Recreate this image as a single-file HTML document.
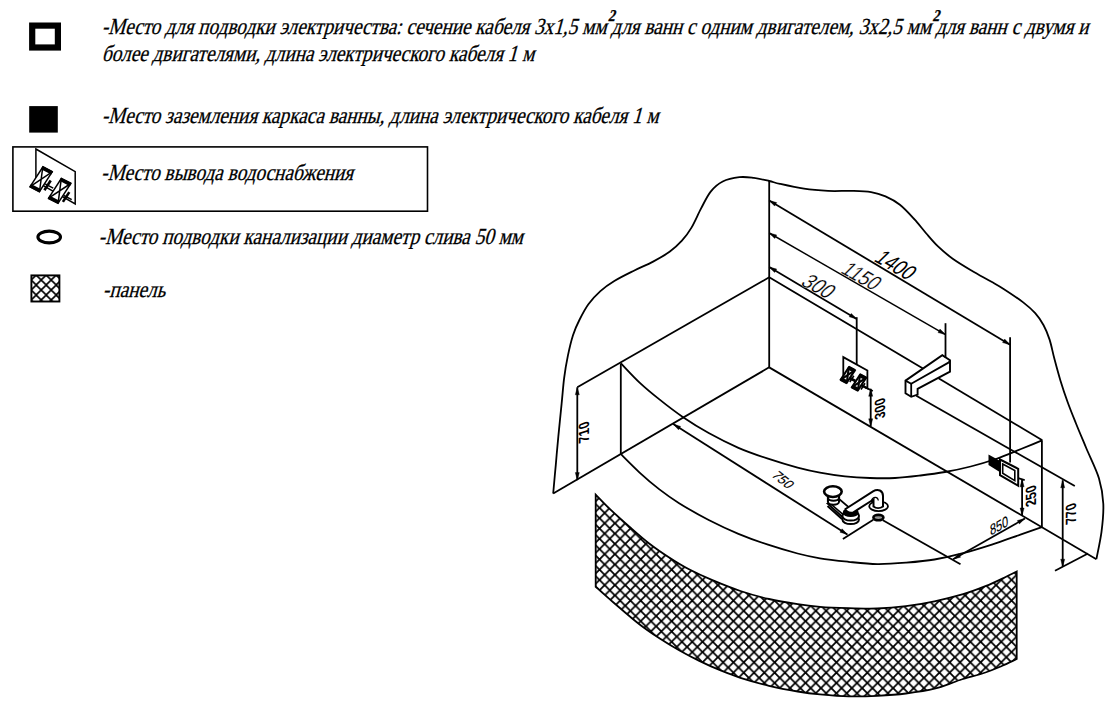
<!DOCTYPE html>
<html lang="ru"><head><meta charset="utf-8"><title>Схема</title>
<style>
html,body{margin:0;padding:0;background:#fff}
body{width:1117px;height:709px;overflow:hidden;position:relative}
svg{position:absolute;left:0;top:0;display:block}
text.l{font-family:"Liberation Serif",serif;font-style:normal;fill:#000;stroke:#000;stroke-width:0.3px}
text.d{font-family:"Liberation Sans",sans-serif;font-style:italic;fill:#000}
text.u{font-family:"Liberation Sans",sans-serif;font-style:normal;fill:#000}
</style></head><body>
<svg width="1117" height="709" viewBox="0 0 1117 709">
<defs>
<pattern id="hatch" patternUnits="userSpaceOnUse" width="10.3" height="10.3" patternTransform="translate(7.25,-2)">
<path d="M-1,-1L11.3,11.3M-1,11.3L11.3,-1" stroke="#000" stroke-width="1.8" fill="none"/>
</pattern>
<pattern id="hatch2" patternUnits="userSpaceOnUse" width="10" height="10" patternTransform="translate(36.2,275)">
<path d="M-1,-1L11,11M-1,11L11,-1" stroke="#000" stroke-width="1.6" fill="none"/>
</pattern>
</defs>
<rect width="1117" height="709" fill="#fff"/>
<g fill="none" stroke="#000" stroke-width="1.8" stroke-linecap="butt" stroke-linejoin="miter">
<path d="M553.2,493.5C553.6,488.7 554.9,474.2 555.8,464.8C556.6,455.4 557.3,447.1 558.3,436.9C559.3,426.7 560.6,413.6 561.6,403.8C562.6,394.1 563.1,386.4 564.1,378.4C565.1,370.4 566.4,362.8 567.9,355.6C569.4,348.4 571.1,341.1 573.0,335.2C574.9,329.3 576.8,325.1 579.4,320.0C582.0,314.9 584.9,309.1 588.4,304.3C591.9,299.5 596.0,295.0 600.4,291.1C604.8,287.2 609.1,284.2 614.7,280.8C620.3,277.4 627.5,273.9 633.9,270.7C640.3,267.5 647.1,264.8 653.1,261.6C659.1,258.4 665.1,255.0 669.9,251.5C674.7,248.0 678.3,244.7 681.9,240.7C685.5,236.7 688.3,233.0 691.5,227.6C694.7,222.2 697.9,214.4 701.1,208.4C704.3,202.4 707.1,196.1 710.7,191.6C714.3,187.1 717.9,183.9 722.7,181.5C727.5,179.1 734.2,177.8 739.4,177.2C744.6,176.6 748.8,177.3 753.8,177.9C758.8,178.5 764.8,180.0 769.2,181.0C773.6,182.0 774.2,182.6 780.0,183.9C785.8,185.2 796.0,187.5 804.0,188.7C812.0,189.9 820.0,190.5 828.0,190.9C836.0,191.3 844.7,190.7 851.9,190.9C859.1,191.1 865.5,191.2 871.1,192.1C876.7,193.0 880.7,194.3 885.5,196.4C890.3,198.5 895.1,201.0 899.9,204.8C904.7,208.6 909.9,214.4 914.3,219.2C918.7,224.0 922.3,228.9 926.3,233.5C930.3,238.1 933.9,242.5 938.3,246.7C942.7,250.9 947.1,254.7 952.7,258.7C958.3,262.7 965.4,266.9 971.8,270.7C978.2,274.5 985.6,278.4 991.0,281.5C996.4,284.6 998.6,285.7 1004.0,289.2C1009.4,292.7 1018.0,298.4 1023.2,302.4C1028.4,306.4 1031.8,309.4 1035.2,313.2C1038.6,317.0 1041.2,320.8 1043.6,325.2C1046.0,329.6 1047.8,334.0 1049.6,339.6C1051.4,345.2 1052.6,352.0 1054.4,358.8C1056.2,365.6 1058.2,373.2 1060.4,380.4C1062.6,387.6 1065.0,394.8 1067.6,402.0C1070.2,409.2 1072.9,415.8 1076.0,423.5C1079.1,431.2 1082.4,438.9 1086.2,448.0C1090.0,457.1 1096.2,469.1 1099.0,478.4C1101.8,487.7 1102.9,494.9 1103.3,503.8C1103.7,512.7 1102.7,522.6 1101.5,531.8C1100.3,541.0 1097.2,554.6 1096.4,559.2"/>
<line x1="769.2" y1="181.0" x2="769.2" y2="367.4"/>
<line x1="769.2" y1="367.3" x2="553.2" y2="493.5"/>
<line x1="769.2" y1="367.4" x2="1096.4" y2="559.2"/>
<line x1="769.2" y1="277.3" x2="577.3" y2="387.3"/>
<line x1="769.2" y1="277.3" x2="922.6" y2="368.3"/>
<line x1="938.5" y1="378.2" x2="1042.3" y2="440.3"/>
<line x1="620.8" y1="363.5" x2="620.8" y2="454.2"/>
<line x1="1041.9" y1="440.3" x2="1041.9" y2="527.2"/>
<path d="M620.9,363.3C624.0,366.5 633.2,376.6 639.6,382.6C646.0,388.6 652.1,393.6 659.4,399.4C666.6,405.2 674.9,411.6 683.1,417.2C691.3,422.8 699.5,427.9 708.7,433.0C717.9,438.1 728.5,443.5 738.4,447.8C748.3,452.1 758.1,455.4 768.0,458.7C777.9,462.0 788.9,465.3 797.6,467.6C806.3,469.9 812.1,471.2 820.0,472.6C827.9,474.1 836.7,475.4 845.0,476.3C853.3,477.2 861.7,477.7 870.0,478.0C878.3,478.3 886.6,478.4 895.0,478.0C903.4,477.6 912.2,476.5 920.5,475.5C928.8,474.5 936.6,473.5 945.0,472.0C953.4,470.5 962.2,468.7 970.7,466.5C979.2,464.3 987.4,461.9 995.8,459.0C1004.2,456.1 1013.3,452.1 1021.0,449.0C1028.7,445.9 1038.5,441.8 1042.0,440.3"/>
<path d="M620.9,454.2C624.0,457.3 633.2,466.7 639.6,472.6C646.0,478.5 652.8,484.3 659.4,489.4C666.0,494.5 670.9,498.1 679.1,503.2C687.3,508.3 698.8,514.9 708.7,520.0C718.6,525.1 728.5,529.7 738.4,533.8C748.3,537.9 758.1,541.4 768.0,544.7C777.9,548.0 788.9,551.2 797.6,553.5C806.3,555.8 811.5,556.9 820.0,558.3C828.5,559.7 839.1,560.8 848.6,561.8C858.1,562.8 867.8,564.0 877.3,564.1C886.8,564.2 896.4,563.5 905.9,562.7C915.4,561.9 925.0,561.1 934.5,559.5C944.0,557.9 953.6,555.7 963.1,553.2C972.6,550.7 982.2,547.7 991.8,544.6C1001.3,541.5 1012.1,537.5 1020.4,534.6C1028.7,531.7 1038.2,528.4 1041.8,527.2"/>
<line x1="577.3" y1="387.3" x2="577.3" y2="480.1"/><polygon points="577.3,387.3 579.3,394.8 575.3,394.8" fill="#000" stroke="#000" stroke-width="0.4"/><polygon points="577.3,480.1 575.3,472.6 579.3,472.6" fill="#000" stroke="#000" stroke-width="0.4"/>
<line x1="769.2" y1="200.5" x2="1010.1" y2="344.7"/><polygon points="769.2,200.5 776.7,202.6 774.6,206.1" fill="#000" stroke="#000" stroke-width="0.4"/><polygon points="1010.1,344.7 1002.6,342.6 1004.7,339.1" fill="#000" stroke="#000" stroke-width="0.4"/>
<line x1="769.2" y1="233.0" x2="945.5" y2="334.6" stroke-width="1.45"/><polygon points="769.2,233.0 776.7,235.0 774.7,238.5" fill="#000" stroke="#000" stroke-width="0.4"/><polygon points="945.5,334.6 938.0,332.6 940.0,329.1" fill="#000" stroke="#000" stroke-width="0.4"/>
<line x1="769.2" y1="267.0" x2="856.7" y2="318.9"/><polygon points="769.2,267.0 776.7,269.1 774.6,272.5" fill="#000" stroke="#000" stroke-width="0.4"/><polygon points="856.7,318.9 849.2,316.8 851.3,313.4" fill="#000" stroke="#000" stroke-width="0.4"/>
<line x1="856.7" y1="317.2" x2="856.7" y2="364.7"/>
<line x1="945.5" y1="323.2" x2="945.5" y2="358.0"/>
<line x1="1010.1" y1="337.3" x2="1010.1" y2="462.4"/>
<line x1="870.7" y1="388.8" x2="870.7" y2="426.3"/><polygon points="870.7,388.8 872.7,396.3 868.7,396.3" fill="#000" stroke="#000" stroke-width="0.4"/><polygon points="870.7,426.3 868.7,418.8 872.7,418.8" fill="#000" stroke="#000" stroke-width="0.4"/>
<line x1="865.7" y1="387.6" x2="872.8" y2="391.0"/>
<line x1="916.3" y1="395.8" x2="1074.8" y2="486.0"/>
<line x1="673.2" y1="424.1" x2="847.4" y2="534.5"/><polygon points="673.2,424.1 680.6,426.4 678.5,429.8" fill="#000" stroke="#000" stroke-width="0.4"/><polygon points="847.4,534.5 840.0,532.2 842.1,528.8" fill="#000" stroke="#000" stroke-width="0.4"/>
<line x1="873.3" y1="519.8" x2="842.9" y2="538.9"/>
<line x1="953.1" y1="559.2" x2="1024.9" y2="518.5"/><polygon points="953.1,559.2 958.6,553.8 960.6,557.2" fill="#000" stroke="#000" stroke-width="0.4"/><polygon points="1024.9,518.5 1019.4,523.9 1017.4,520.5" fill="#000" stroke="#000" stroke-width="0.4"/>
<line x1="882.9" y1="520.3" x2="960.5" y2="564.3"/>
<line x1="1022.1" y1="479.3" x2="1022.1" y2="515.5"/><polygon points="1022.1,479.3 1024.1,486.8 1020.1,486.8" fill="#000" stroke="#000" stroke-width="0.4"/><polygon points="1022.1,515.5 1020.1,508.0 1024.1,508.0" fill="#000" stroke="#000" stroke-width="0.4"/>
<line x1="1018.2" y1="478.2" x2="1024.7" y2="480.2"/>
<line x1="1062.7" y1="480.3" x2="1062.7" y2="566.7"/><polygon points="1062.7,480.3 1064.7,487.8 1060.7,487.8" fill="#000" stroke="#000" stroke-width="0.4"/><polygon points="1062.7,566.7 1060.7,559.2 1064.7,559.2" fill="#000" stroke="#000" stroke-width="0.4"/>
<line x1="1055.0" y1="570.8" x2="1088.0" y2="553.5"/>
<polygon points="843.3,357.1 867.4,370.5 867.4,388.2 843.3,374.9" fill="#fff"/>
<g fill="#fff" stroke-width="1.9">
<polygon points="905.5,380.6 942.3,355.2 950.0,360.3 950.0,371.7 917.6,388.9 917.6,394.6 911.2,396.8 905.5,393.3" fill="none"/>
</g>
<polyline points="905.5,380.6 911.2,383.8 948.9,362.4" fill="none"/>
<line x1="911.2" y1="383.8" x2="911.2" y2="396.8"/>
<line x1="948.9" y1="362.4" x2="950.0" y2="360.3"/>
<polygon points="989.4,456.1 1000.4,462.0 1000.4,471.3 989.4,464.6" fill="#000"/>
<polygon points="1000.0,459.5 1018.2,468.8 1018.2,485.7 1000.0,475.1" fill="#fff" stroke-width="2"/>
<polygon points="1002.7,464.0 1014.8,470.5 1014.8,480.6 1002.7,473.2" fill="none" stroke-width="1.6"/>
</g>
<g fill="#fff" stroke="#000" stroke-linecap="butt"><polygon points="848.8,367.3 854.8,370.4 846.8,382.7 840.8,379.6" stroke-width="2.1"/><path d="M848.8,367.3L846.8,382.7M854.8,370.4L840.8,379.6" stroke-width="2.1" fill="none"/><path d="M848.2,367.6L854.8,371.0M840.8,379.0L847.4,382.4" stroke-width="3.906" fill="none"/><path d="M853.8,375.8L849.8,382.0" stroke-width="1.6380000000000001" fill="none"/><path d="M850.3,378.0L855.4,380.6" stroke-width="2.1" fill="none"/></g>
<g fill="#fff" stroke="#000" stroke-linecap="butt"><polygon points="860.0,374.8 866.0,377.9 858.0,390.2 852.0,387.1" stroke-width="2.1"/><path d="M860.0,374.8L858.0,390.2M866.0,377.9L852.0,387.1" stroke-width="2.1" fill="none"/><path d="M859.4,375.1L866.0,378.5M852.0,386.5L858.6,389.9" stroke-width="3.906" fill="none"/><path d="M865.0,383.3L861.0,389.5" stroke-width="1.6380000000000001" fill="none"/><path d="M861.5,385.5L866.6,388.1" stroke-width="2.1" fill="none"/></g>
<g fill="#fff" stroke="#000" stroke-width="2">
<polygon points="827.5,503.5 838.0,498.0 852.0,510.0 842.0,516.5" fill="none" stroke-width="1.8"/>
<polyline points="827.5,506.0 842.0,519.0" fill="none" stroke-width="2"/>
<polyline points="829.0,502.5 843.5,514.8" fill="none" stroke-width="1.6"/>
<ellipse cx="833.5" cy="501.5" rx="5.6" ry="3.2"/>
<path d="M827.9,495v6.5M839.1,495v6.5" />
<ellipse cx="833.5" cy="497.5" rx="5.6" ry="3.2"/>
<ellipse cx="832.9" cy="491.6" rx="8.8" ry="5.4" stroke-width="2.6"/>
<ellipse cx="850.7" cy="519.5" rx="8.3" ry="4.6"/>
<ellipse cx="850.7" cy="516" rx="8.3" ry="4.6"/>
<ellipse cx="850.7" cy="512.5" rx="7" ry="3.6" fill="#000"/>
<ellipse cx="878.6" cy="506.2" rx="9.4" ry="4.9" stroke-width="1.8"/>
<path d="M845.5,509 L873,491.3 C878,488.5 883,490.5 883,496 L883,506.5 C880,508.6 876,508.6 873.5,506.5 L873.5,499.5 L853,512.5 C849,513 846,511.5 845.5,509Z"/>
<path d="M871.5,500.5 C873,496 878,496.5 878.3,500.5" fill="none" stroke-width="1.2"/>
</g>
<ellipse cx="878.4" cy="517.6" rx="5" ry="2.7" fill="#999" stroke="#000" stroke-width="2.6"/>
<path d="M595.7,494.6C598.1,497.0 604.3,503.7 610.0,509.1C615.7,514.5 623.1,521.1 629.7,526.9C636.3,532.7 642.9,538.6 649.5,543.7C656.1,548.8 662.6,553.2 669.2,557.5C675.8,561.8 681.9,565.6 689.0,569.3C696.1,573.0 703.2,576.3 711.8,579.9C720.4,583.5 730.9,587.8 740.4,591.0C749.9,594.2 759.5,596.8 769.0,599.0C778.5,601.2 789.2,602.9 797.7,604.2C806.2,605.5 811.5,606.1 820.0,606.8C828.5,607.5 839.1,607.9 848.6,608.2C858.1,608.5 867.8,608.8 877.3,608.5C886.8,608.2 896.4,607.4 905.9,606.2C915.4,605.0 925.0,603.3 934.5,601.3C944.0,599.3 954.6,596.7 963.1,594.2C971.6,591.7 978.9,588.8 985.4,586.2C991.9,583.6 997.1,581.1 1002.3,578.6C1007.5,576.1 1014.3,572.7 1016.7,571.5L1016.7,659.0C1014.3,660.1 1007.5,663.5 1002.3,665.8C997.1,668.0 992.4,670.1 985.4,672.5C978.4,674.9 968.5,677.3 960.0,680.0C951.5,682.7 943.5,686.5 934.5,688.7C925.5,691.0 915.4,692.3 905.9,693.5C896.4,694.7 886.8,695.3 877.3,695.8C867.8,696.3 858.1,696.6 848.6,696.4C839.1,696.2 828.5,695.2 820.0,694.4C811.5,693.6 806.2,692.9 797.7,691.5C789.2,690.1 778.5,688.1 769.0,685.8C759.5,683.5 748.6,680.4 740.4,677.8C732.2,675.2 726.9,673.0 720.0,670.2C713.1,667.4 706.0,664.2 699.3,660.9C692.5,657.6 686.1,654.2 679.5,650.5C672.9,646.8 666.3,642.9 659.8,638.6C653.2,634.3 647.8,630.8 640.0,624.8C632.2,618.8 620.6,608.6 613.2,602.3C605.8,596.0 598.6,589.4 595.7,586.8Z" fill="url(#hatch)" stroke="#000" stroke-width="1.8"/>
<text class="u" transform="matrix(0.6755,0.3900,-0.7193,0.6947,873.0,260.5)" font-size="23" font-weight="normal" text-anchor="start">1400</text>
<text class="u" transform="matrix(0.6997,0.3878,-0.7071,0.7071,839.5,272.2)" font-size="22.5" font-weight="normal" text-anchor="start" stroke="#fff" stroke-width="0.25">1150</text>
<text class="u" transform="matrix(0.7152,0.3803,-0.7193,0.6947,799.5,284.5)" font-size="23" font-weight="normal" text-anchor="start" stroke="#fff" stroke-width="0.2">300</text>
<text class="u" transform="matrix(0.7150,0.5790,-0.8387,0.5446,770.8,475.8)" font-size="14" font-weight="normal" text-anchor="start" stroke="#000" stroke-width="0.15">750</text>
<text class="u" transform="matrix(0.7224,-0.4087,0.0872,0.9962,990.5,535.8)" font-size="15" font-weight="normal" text-anchor="start" stroke="#000" stroke-width="0.15">850</text>
<text class="u" transform="matrix(0.0000,-0.8000,0.9563,-0.2924,589.2,430.8)" font-size="15.5" font-weight="bold" text-anchor="middle">710</text>
<text class="u" transform="matrix(0.0000,-0.8000,0.9563,-0.2924,885.1,407.2)" font-size="15.5" font-weight="bold" text-anchor="middle">300</text>
<text class="u" transform="matrix(0.0000,-0.8000,0.9563,-0.2924,1036.4,494.5)" font-size="15.5" font-weight="bold" text-anchor="middle">250</text>
<text class="u" transform="matrix(0.0000,-0.8000,0.9563,-0.2924,1076.0,512.2)" font-size="15.5" font-weight="bold" text-anchor="middle">770</text>
<rect x="32.2" y="25.6" width="25.7" height="21.9" fill="#fff" stroke="#000" stroke-width="6.2"/>
<rect x="29.2" y="106.1" width="28.6" height="26.5" fill="#000"/>
<rect x="12.9" y="146.9" width="414.6" height="64.3" fill="none" stroke="#000" stroke-width="1.6"/>
<g fill="none" stroke="#000" stroke-width="1.5">
<polygon points="35.9,149.0 75.2,171.7 75.2,204.0 35.9,181.3" fill="none"/>
</g>
<g fill="#fff" stroke="#000" stroke-linecap="butt"><polygon points="42.8,167.0 52.2,171.9 39.5,191.5 30.1,186.6" stroke-width="1.5"/><path d="M42.8,167.0L39.5,191.5M52.2,171.9L30.1,186.6" stroke-width="1.5" fill="none"/><path d="M41.8,167.5L52.2,172.9M30.1,185.6L40.5,191.0" stroke-width="3.8" fill="none"/><path d="M50.7,180.5L44.4,190.3" stroke-width="2.6" fill="none"/><path d="M45.1,183.9L53.2,188.1" stroke-width="1.5" fill="none"/></g>
<g fill="#fff" stroke="#000" stroke-linecap="butt"><polygon points="61.3,178.6 70.8,183.5 58.1,203.1 48.6,198.2" stroke-width="1.5"/><path d="M61.3,178.6L58.1,203.1M70.8,183.5L48.6,198.2" stroke-width="1.5" fill="none"/><path d="M60.3,179.1L70.8,184.5M48.6,197.2L59.1,202.6" stroke-width="3.8" fill="none"/><path d="M69.3,192.1L62.9,201.9" stroke-width="2.6" fill="none"/><path d="M63.7,195.5L71.7,199.7" stroke-width="1.5" fill="none"/></g>
<ellipse cx="49.2" cy="237" rx="11.3" ry="5.9" fill="none" stroke="#000" stroke-width="3.1"/>
<rect x="31.4" y="275.4" width="28" height="26.1" fill="url(#hatch2)" stroke="#000" stroke-width="1.9"/>
<text class="l" transform="translate(101.7,34.0) skewX(-15) scale(0.8365,1)" font-size="23" font-weight="normal" text-anchor="start">-Место для подводки электричества: сечение кабеля 3х1,5 мм<tspan font-size="16.5" font-weight="bold" dy="-13.5" dx="-2.5">2</tspan><tspan dy="13.5" dx="0">для</tspan> ванн с одним двигателем, 3х2,5 мм<tspan font-size="16.5" font-weight="bold" dy="-13.5" dx="-2.5">2</tspan><tspan dy="13.5" dx="0">для</tspan> ванн с двумя и</text>
<text class="l" transform="translate(101.7,61.3) skewX(-15) scale(0.8365,1)" font-size="23" font-weight="normal" text-anchor="start">более двигателями, длина электрического кабеля 1 м</text>
<text class="l" transform="translate(101.7,122.6) skewX(-15) scale(0.8365,1)" font-size="23" font-weight="normal" text-anchor="start">-Место заземления каркаса ванны, длина электрического кабеля 1 м</text>
<text class="l" transform="translate(101.0,180.4) skewX(-15) scale(0.8365,1)" font-size="23" font-weight="normal" text-anchor="start">-Место вывода водоснабжения</text>
<text class="l" transform="translate(98.6,243.7) skewX(-15) scale(0.8365,1)" font-size="23" font-weight="normal" text-anchor="start">-Место подводки канализации диаметр слива 50 мм</text>
<text class="l" transform="translate(102.8,296.7) skewX(-15) scale(0.8365,1)" font-size="23" font-weight="normal" text-anchor="start">-панель</text>
</svg>
</body></html>
